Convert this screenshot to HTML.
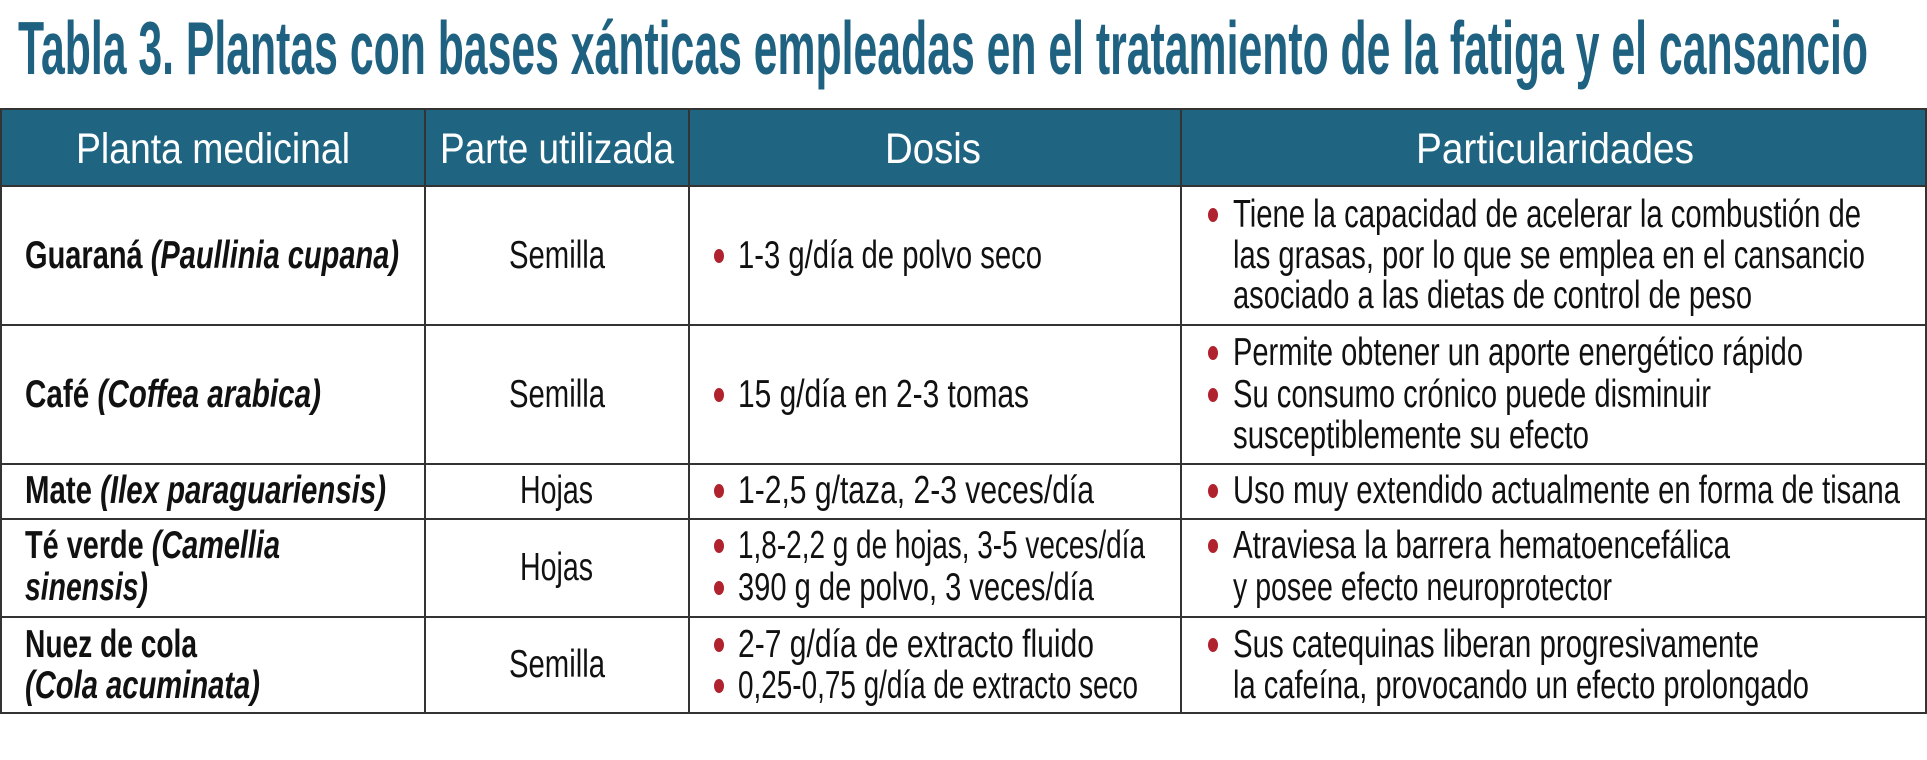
<!DOCTYPE html>
<html><head><meta charset="utf-8"><style>
html,body{margin:0;padding:0;background:#fff;}
svg{display:block;}
text{font-family:"Liberation Sans",sans-serif;}
.b{font-size:39px;fill:#111;}
.h{font-size:43px;fill:#fff;}
</style></head><body>
<svg width="1927" height="760" viewBox="0 0 1927 760" xmlns="http://www.w3.org/2000/svg">
<text x="18" y="74" font-size="75" font-weight="bold" fill="#1f6180" textLength="1850" lengthAdjust="spacingAndGlyphs">Tabla 3. Plantas con bases xánticas empleadas en el tratamiento de la fatiga y el cansancio</text>
<rect x="0" y="109" width="1926" height="77" fill="#1f6481"/>
<g stroke="#333" stroke-width="2" fill="none">
<line x1="0" y1="109" x2="1927" y2="109"/>
<line x1="0" y1="186" x2="1927" y2="186"/>
<line x1="0" y1="325" x2="1927" y2="325"/>
<line x1="0" y1="464" x2="1927" y2="464"/>
<line x1="0" y1="519" x2="1927" y2="519"/>
<line x1="0" y1="617" x2="1927" y2="617"/>
<line x1="0" y1="713" x2="1927" y2="713"/>
<line x1="1" y1="109" x2="1" y2="713"/>
<line x1="1926" y1="109" x2="1926" y2="713"/>
<line x1="425" y1="109" x2="425" y2="713"/>
<line x1="689" y1="109" x2="689" y2="713"/>
<line x1="1181" y1="109" x2="1181" y2="713"/>
</g>
<text class="h" x="76" y="163" textLength="274" lengthAdjust="spacingAndGlyphs">Planta medicinal</text>
<text class="h" x="440" y="163" textLength="234" lengthAdjust="spacingAndGlyphs">Parte utilizada</text>
<text class="h" x="885" y="163" textLength="96" lengthAdjust="spacingAndGlyphs">Dosis</text>
<text class="h" x="1416" y="163" textLength="278" lengthAdjust="spacingAndGlyphs">Particularidades</text>

<g class="b">
<text class="b" x="25" y="268" font-weight="bold" textLength="374" lengthAdjust="spacingAndGlyphs">Guaraná <tspan font-style="italic">(Paullinia cupana)</tspan></text>
<text class="b" x="25" y="407" font-weight="bold" textLength="296" lengthAdjust="spacingAndGlyphs">Café <tspan font-style="italic">(Coffea arabica)</tspan></text>
<text class="b" x="25" y="503" font-weight="bold" textLength="361" lengthAdjust="spacingAndGlyphs">Mate <tspan font-style="italic">(Ilex paraguariensis)</tspan></text>
<text class="b" x="25" y="558" font-weight="bold" textLength="255" lengthAdjust="spacingAndGlyphs">Té verde <tspan font-style="italic">(Camellia</tspan></text>
<text class="b" x="25" y="600" font-weight="bold" font-style="italic" textLength="123" lengthAdjust="spacingAndGlyphs">sinensis)</text>
<text class="b" x="25" y="657" font-weight="bold" textLength="172" lengthAdjust="spacingAndGlyphs">Nuez de cola</text>
<text class="b" x="25" y="698" font-weight="bold" font-style="italic" textLength="235" lengthAdjust="spacingAndGlyphs">(Cola acuminata)</text>

<text class="b" x="509" y="268" textLength="96" lengthAdjust="spacingAndGlyphs">Semilla</text>
<text class="b" x="509" y="407" textLength="96" lengthAdjust="spacingAndGlyphs">Semilla</text>
<text class="b" x="520" y="503" textLength="73" lengthAdjust="spacingAndGlyphs">Hojas</text>
<text class="b" x="520" y="580" textLength="73" lengthAdjust="spacingAndGlyphs">Hojas</text>
<text class="b" x="509" y="677" textLength="96" lengthAdjust="spacingAndGlyphs">Semilla</text>

<text class="b" x="738" y="268" textLength="304" lengthAdjust="spacingAndGlyphs">1-3 g/día de polvo seco</text>
<text class="b" x="738" y="407" textLength="291" lengthAdjust="spacingAndGlyphs">15 g/día en 2-3 tomas</text>
<text class="b" x="738" y="503" textLength="356" lengthAdjust="spacingAndGlyphs">1-2,5 g/taza, 2-3 veces/día</text>
<text class="b" x="738" y="558" textLength="407" lengthAdjust="spacingAndGlyphs">1,8-2,2 g de hojas, 3-5 veces/día</text>
<text class="b" x="738" y="600" textLength="356" lengthAdjust="spacingAndGlyphs">390 g de polvo, 3 veces/día</text>
<text class="b" x="738" y="657" textLength="356" lengthAdjust="spacingAndGlyphs">2-7 g/día de extracto fluido</text>
<text class="b" x="738" y="698" textLength="400" lengthAdjust="spacingAndGlyphs">0,25-0,75 g/día de extracto seco</text>

<text class="b" x="1233" y="227" textLength="628" lengthAdjust="spacingAndGlyphs">Tiene la capacidad de acelerar la combustión de</text>
<text class="b" x="1233" y="268" textLength="632" lengthAdjust="spacingAndGlyphs">las grasas, por lo que se emplea en el cansancio</text>
<text class="b" x="1233" y="308" textLength="519" lengthAdjust="spacingAndGlyphs">asociado a las dietas de control de peso</text>
<text class="b" x="1233" y="365" textLength="570" lengthAdjust="spacingAndGlyphs">Permite obtener un aporte energético rápido</text>
<text class="b" x="1233" y="407" textLength="478" lengthAdjust="spacingAndGlyphs">Su consumo crónico puede disminuir</text>
<text class="b" x="1233" y="448" textLength="356" lengthAdjust="spacingAndGlyphs">susceptiblemente su efecto</text>
<text class="b" x="1233" y="503" textLength="667" lengthAdjust="spacingAndGlyphs">Uso muy extendido actualmente en forma de tisana</text>
<text class="b" x="1233" y="558" textLength="497" lengthAdjust="spacingAndGlyphs">Atraviesa la barrera hematoencefálica</text>
<text class="b" x="1233" y="600" textLength="379" lengthAdjust="spacingAndGlyphs">y posee efecto neuroprotector</text>
<text class="b" x="1233" y="657" textLength="526" lengthAdjust="spacingAndGlyphs">Sus catequinas liberan progresivamente</text>
<text class="b" x="1233" y="698" textLength="576" lengthAdjust="spacingAndGlyphs">la cafeína, provocando un efecto prolongado</text>
</g>

<g fill="#b0232e">
<ellipse cx="719" cy="256" rx="5" ry="7"/>
<ellipse cx="719" cy="395" rx="5" ry="7"/>
<ellipse cx="719" cy="491" rx="5" ry="7"/>
<ellipse cx="719" cy="546" rx="5" ry="7"/>
<ellipse cx="719" cy="588" rx="5" ry="7"/>
<ellipse cx="719" cy="645" rx="5" ry="7"/>
<ellipse cx="719" cy="686" rx="5" ry="7"/>
<ellipse cx="1213" cy="215" rx="5" ry="7"/>
<ellipse cx="1213" cy="353" rx="5" ry="7"/>
<ellipse cx="1213" cy="395" rx="5" ry="7"/>
<ellipse cx="1213" cy="491" rx="5" ry="7"/>
<ellipse cx="1213" cy="546" rx="5" ry="7"/>
<ellipse cx="1213" cy="645" rx="5" ry="7"/>
</g>
</svg>
</body></html>
